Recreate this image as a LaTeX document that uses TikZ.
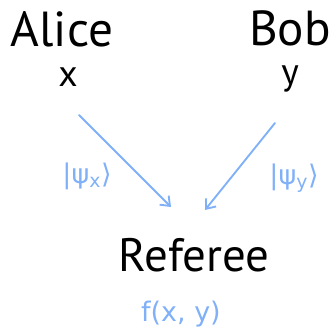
\documentclass[tikz,border=0pt]{standalone}
\usepackage{fontspec}
\setmainfont{PT Sans}
\newfontfamily\qfont{DejaVu Sans}
\usetikzlibrary{arrows.meta}
\definecolor{cInk}{HTML}{000000}
\definecolor{cQu}{HTML}{80B0F8}
\tikzset{
  every node/.style={text=cInk, inner sep=0pt},
  party/.style={font=\fontsize{42}{46}\selectfont},
  inp/.style={font=\fontsize{32}{36}\selectfont},
  qlab/.style={font=\qfont\fontsize{23}{26}\selectfont, text=cQu},
  qarr/.style={-{Straight Barb[length=7pt,width=11pt]}, line width=1.6pt, draw=cQu, line cap=round},
}

\begin{document}
\begin{tikzpicture}[x=0.03cm,y=-0.03cm]
\useasboundingbox (0,0) rectangle (332,333);
% ---------------- players
\node[party] (alice) at (62,29) {Alice};
\node[inp] (xin) at (68,77) {x};
\node[party] (bob) at (290,28) {Bob};
\node[inp] (yin) at (290,79) {y};

% ---------------- referee
\node[party, font=\fontsize{40}{44}\selectfont] (ref) at (194,255) {Referee};
\node[qlab] (fxy) at (181,314) {f(x, y)};

% ---------------- quantum messages
\coordinate (qa) at (79,115);
\coordinate (qb) at (275,123);
\coordinate (ra) at (171,207);
\coordinate (rb) at (205,210);
\draw[qarr] (qa) -- (ra);
\draw[qarr] (qb) -- (rb);
\node[qlab] (psix) at (87,176) {|ψ\textsubscript{x}⟩};
\node[qlab] (psiy) at (294,178) {|ψ\textsubscript{y}⟩};
\end{tikzpicture}
\end{document}
